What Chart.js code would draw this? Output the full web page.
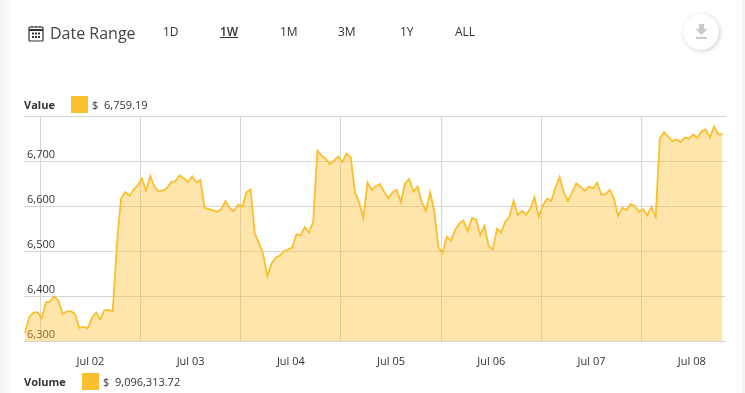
<!DOCTYPE html>
<html lang="en">
<head>
<meta charset="UTF-8">
<title>Date Range</title>
<script src="https://cdn.jsdelivr.net/npm/chart.js"></script>
<style>
    html, body { margin: 0; padding: 0; }
    body {
        width: 745px;
        height: 393px;
        overflow: hidden;
        position: relative;
        background: #fff;
        font-family: "Open Sans", sans-serif;
        color: #333;
    }
    .edge { position: absolute; top: 0; bottom: 0; }
    #edgeLeft { left: 0; width: 9px; background: linear-gradient(to right, #f4f4f4, #f7f7f7 70%, #fbfbfb); }
    #edgeRight { right: 0; width: 3px; background: #f4f4f4; }
    canvas { position: absolute; left: 0; top: 0; }
    .txt { position: absolute; white-space: nowrap; line-height: 16px; }
    .range { font-size: 12px; top: 24px; }
    .swatch { position: absolute; width: 17px; height: 17px; background: #fbbf2d; }
    .legend { font-size: 11px; }
    .legend b { font-weight: 700; }
    #download {
        position: absolute; left: 683px; top: 14px; width: 36px; height: 36px;
        border-radius: 50%; background: #fff;
        box-shadow: 1px 1px 4px rgba(0,0,0,0.2);
    }
</style>
</head>
<body>
<div class="edge" id="edgeLeft"></div>
<div class="edge" id="edgeRight"></div>
<canvas id="priceChart" width="745" height="393" style="width:745px;height:393px"></canvas>

<svg style="position:absolute;left:28px;top:25px" width="17" height="17" viewBox="0 0 17 17">
    <rect x="1" y="2" width="14" height="14" rx="1" fill="none" stroke="#333" stroke-width="1.2"/>
    <path d="M1 5h14" stroke="#333" stroke-width="2"/>
    <path d="M4 1v2M8 1v2M12 1v2" stroke="#333" stroke-width="1"/>
    <path d="M4 7.5h2v2H4zM7 7.5h2v2H7zM10 7.5h2v2h-2zM4 11h2v2H4zM7 11h2v2H7zM10 11h2v2h-2z" fill="#333"/>
</svg>
<div class="txt" style="left:50px;top:25px;font-size:16px;color:#444">Date Range</div>
<div class="txt range" style="left:163px">1D</div>
<div class="txt range" style="left:220px;text-decoration:underline;font-weight:600">1W</div>
<div class="txt range" style="left:280px">1M</div>
<div class="txt range" style="left:338px">3M</div>
<div class="txt range" style="left:400px">1Y</div>
<div class="txt range" style="left:455px">ALL</div>

<div id="download">
    <svg style="position:absolute;left:12px;top:10px" width="13" height="16" viewBox="0 0 13 16">
        <path d="M4 0h5v5h3.5L6.500 11 .5 5H4z" fill="#c9c9c9"/>
        <rect x="1" y="13" width="11" height="2" fill="#c9c9c9"/>
    </svg>
</div>

<div class="txt legend" style="left:24px;top:97px"><b>Value</b></div>
<div class="swatch" style="left:71px;top:96px"></div>
<div class="txt legend" style="left:92px;top:97px">$&nbsp; 6,759.19</div>
<div class="txt legend" style="left:24px;top:374px"><b>Volume</b></div>
<div class="swatch" style="left:82px;top:373px"></div>
<div class="txt legend" style="left:103px;top:374px">$&nbsp; 9,096,313.72</div>

<script>
    // hourly values, first one a bit before midnight of Jul 02
    const values = [
        6317, 6353, 6363, 6364, 6351, 6386, 6388, 6399, 6389, 6360, 6366, 6366,
        6360, 6329, 6332, 6328, 6351, 6363, 6348, 6368, 6369, 6366, 6517, 6617,
        6631, 6623, 6636, 6646, 6661, 6634, 6667, 6642, 6633, 6634, 6640, 6653,
        6655, 6668, 6662, 6653, 6666, 6652, 6658, 6596, 6593, 6591, 6587, 6593,
        6611, 6595, 6589, 6603, 6599, 6630, 6637, 6539, 6518, 6494, 6444, 6472,
        6485, 6489, 6500, 6503, 6508, 6537, 6535, 6553, 6541, 6565, 6723, 6712,
        6705, 6693, 6701, 6710, 6698, 6716, 6708, 6629, 6608, 6573, 6652, 6636,
        6644, 6649, 6632, 6617, 6630, 6636, 6608, 6650, 6660, 6632, 6643, 6608,
        6589, 6631, 6589, 6508, 6496, 6532, 6523, 6547, 6561, 6568, 6544, 6573,
        6570, 6535, 6556, 6511, 6503, 6549, 6541, 6565, 6576, 6612, 6580, 6589,
        6581, 6594, 6620, 6576, 6602, 6616, 6611, 6640, 6664, 6631, 6611, 6631,
        6650, 6643, 6634, 6643, 6639, 6652, 6625, 6626, 6636, 6617, 6578, 6596,
        6591, 6604, 6600, 6587, 6593, 6579, 6598, 6576, 6750, 6764, 6754, 6744,
        6748, 6742, 6752, 6750, 6759, 6751, 6766, 6770, 6752, 6777, 6759, 6760
    ];
    const dayLabels = ["Jul 02", "Jul 03", "Jul 04", "Jul 05", "Jul 06", "Jul 07", "Jul 08"];
    const dayCentres = [12, 36, 60, 84, 108, 132, 156];
    const dayLines = [0, 24, 48, 72, 96, 120, 144];
    const yTicks = [6300, 6400, 6500, 6600, 6700, 6800];
    const yTickLabels = ["6,300", "6,400", "6,500", "6,600", "6,700", ""];
    const firstHour = -3.65;

    const lineColor = "#fbbf2d";
    const gridColor = "#d6d6d6";
    const textColor = "#333";

    new Chart(document.getElementById("priceChart"), {
        type: "line",
        data: {
            datasets: [{
                data: values.map((v, i) => ({ x: firstHour + i, y: v })),
                borderColor: lineColor,
                borderWidth: 1.8,
                backgroundColor: "rgba(251,191,45,0.4)",
                fill: "start",
                tension: 0,
                pointRadius: 0
            }]
        },
        options: {
            responsive: false,
            animation: false,
            layout: { padding: { left: 24, right: 19, top: 116, bottom: 0 } },
            plugins: { legend: { display: false }, tooltip: { enabled: false } },
            scales: {
                x: {
                    type: "linear",
                    min: -3.9,
                    max: 164.2,
                    afterBuildTicks: s => { s.ticks = dayLines.map(v => ({ value: v })); },
                    afterFit: s => { s.height = 0; },
                    ticks: { display: false },
                    grid: { color: gridColor, drawTicks: false },
                    border: { display: false }
                },
                xLabels: {
                    type: "linear",
                    position: "bottom",
                    min: -3.9,
                    max: 164.2,
                    afterBuildTicks: s => { s.ticks = dayCentres.map(v => ({ value: v })); },
                    afterFit: s => { s.height = 52; },
                    ticks: {
                        autoSkip: false,
                        maxRotation: 0,
                        padding: 6,
                        color: textColor,
                        font: { family: "Open Sans", size: 11 },
                        callback: v => dayLabels[dayCentres.indexOf(v)]
                    },
                    grid: { display: false },
                    border: { display: false }
                },
                y: {
                    min: 6300,
                    max: 6800,
                    afterBuildTicks: s => { s.ticks = yTicks.map(v => ({ value: v })); },
                    afterFit: s => { s.width = 0; },
                    ticks: {
                        mirror: true,
                        padding: 3,
                        color: textColor,
                        font: { family: "Open Sans", size: 11, lineHeight: 1.2 },
                        // the empty second line lifts the label above its grid line
                        callback: v => [yTickLabels[yTicks.indexOf(v)], ""]
                    },
                    grid: { color: gridColor, drawTicks: false },
                    border: { display: false }
                }
            }
        }
    });
</script>
</body>
</html>
